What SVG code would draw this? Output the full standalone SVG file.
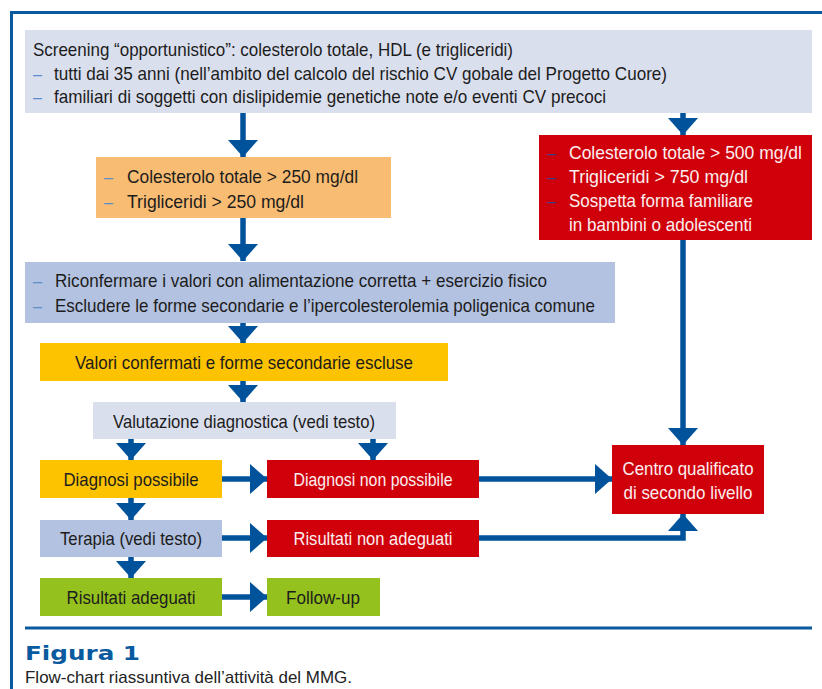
<svg xmlns="http://www.w3.org/2000/svg" width="822" height="689" viewBox="0 0 822 689">
<defs>
<style>
text{font-family:"Liberation Sans","Arial",sans-serif;font-size:18.5px;fill:#1c1c1c}
.w{fill:#fbeeee}
.c{text-anchor:middle}
.d{fill:#5a8fcc}
.dr{fill:#3a3f8e}
.lav{fill:#dadfee}
.blu{fill:#b3c2e0}
.org{fill:#f9bc73}
.yel{fill:#fdc300}
.red{fill:#d0000a}
.grn{fill:#95c11f}
.frame{stroke:#0a5aa0;stroke-width:3;fill:none}
.conn path{stroke:#00529b;stroke-width:5.5;fill:none}
.fig{font-family:"DejaVu Sans","Liberation Sans",sans-serif;font-weight:bold;font-size:20px;fill:#0a5aa0}
.cap{font-size:17px;fill:#222}
</style>
<marker id="ah" markerUnits="userSpaceOnUse" markerWidth="18" markerHeight="30" refX="17" refY="15" orient="auto" viewBox="0 0 18 30">
<path d="M0,0 L17,15 L0,30 Z" fill="#00529b"/>
</marker>
</defs>
<rect width="822" height="689" fill="#ffffff"/>
<path class="frame" d="M10,12.5 H822 M11.5,11 V689"/>
<path class="frame" d="M25,628 H812"/>

<g id="screening">
<rect class="lav" x="25" y="30" width="787" height="83"/>
<text x="33" y="56" textLength="480" lengthAdjust="spacingAndGlyphs">Screening “opportunistico”: colesterolo totale, HDL (e trigliceridi)</text>
<text class="d" x="33" y="80" textLength="9" lengthAdjust="spacingAndGlyphs">–</text>
<text x="54" y="80" textLength="613" lengthAdjust="spacingAndGlyphs">tutti dai 35 anni (nell’ambito del calcolo del rischio CV gobale del Progetto Cuore)</text>
<text class="d" x="33" y="103" textLength="9" lengthAdjust="spacingAndGlyphs">–</text>
<text x="54" y="103" textLength="552" lengthAdjust="spacingAndGlyphs">familiari di soggetti con dislipidemie genetiche note e/o eventi CV precoci</text>
</g>

<g id="soglie250">
<rect class="org" x="96" y="157" width="295" height="61"/>
<text class="d" x="104" y="183" textLength="9" lengthAdjust="spacingAndGlyphs">–</text>
<text x="127" y="183" textLength="231" lengthAdjust="spacingAndGlyphs">Colesterolo totale &gt; 250 mg/dl</text>
<text class="d" x="104" y="208" textLength="9" lengthAdjust="spacingAndGlyphs">–</text>
<text x="127" y="208" textLength="177" lengthAdjust="spacingAndGlyphs">Trigliceridi &gt; 250 mg/dl</text>
</g>

<g id="soglie500">
<rect class="red" x="539" y="135" width="273" height="105"/>
<text class="dr" x="547" y="159" textLength="9" lengthAdjust="spacingAndGlyphs">–</text>
<text class="w" x="569" y="159" textLength="233" lengthAdjust="spacingAndGlyphs">Colesterolo totale &gt; 500 mg/dl</text>
<text class="dr" x="547" y="183" textLength="9" lengthAdjust="spacingAndGlyphs">–</text>
<text class="w" x="569" y="183" textLength="179" lengthAdjust="spacingAndGlyphs">Trigliceridi &gt; 750 mg/dl</text>
<text class="dr" x="547" y="207" textLength="9" lengthAdjust="spacingAndGlyphs">–</text>
<text class="w" x="569" y="207" textLength="184" lengthAdjust="spacingAndGlyphs">Sospetta forma familiare</text>
<text class="w" x="569" y="231" textLength="183" lengthAdjust="spacingAndGlyphs">in bambini o adolescenti</text>
</g>

<g id="riconfermare">
<rect class="blu" x="25" y="262" width="590" height="61"/>
<text class="d" x="33" y="287" textLength="9" lengthAdjust="spacingAndGlyphs">–</text>
<text x="55" y="287" textLength="492" lengthAdjust="spacingAndGlyphs">Riconfermare i valori con alimentazione corretta + esercizio fisico</text>
<text class="d" x="33" y="312" textLength="9" lengthAdjust="spacingAndGlyphs">–</text>
<text x="55" y="312" textLength="540" lengthAdjust="spacingAndGlyphs">Escludere le forme secondarie e l’ipercolesterolemia poligenica comune</text>
</g>

<g id="confermati">
<rect class="yel" x="40" y="343" width="408" height="38"/>
<text class="c" x="244" y="369" textLength="338" lengthAdjust="spacingAndGlyphs">Valori confermati e forme secondarie escluse</text>
</g>

<g id="valutazione">
<rect class="lav" x="93" y="402" width="303" height="37"/>
<text class="c" x="244" y="428" textLength="262" lengthAdjust="spacingAndGlyphs">Valutazione diagnostica (vedi testo)</text>
</g>

<g id="diagnosi-possibile">
<rect class="yel" x="40" y="460" width="182" height="38"/>
<text class="c" x="131" y="486" textLength="135" lengthAdjust="spacingAndGlyphs">Diagnosi possibile</text>
</g>

<g id="diagnosi-non-possibile">
<rect class="red" x="267" y="460" width="212" height="38"/>
<text class="c w" x="373" y="486" textLength="159" lengthAdjust="spacingAndGlyphs">Diagnosi non possibile</text>
</g>

<g id="centro">
<rect class="red" x="612" y="445" width="152" height="69"/>
<text class="c w" x="688" y="475" textLength="131" lengthAdjust="spacingAndGlyphs">Centro qualificato</text>
<text class="c w" x="688" y="499" textLength="129" lengthAdjust="spacingAndGlyphs">di secondo livello</text>
</g>

<g id="terapia">
<rect class="blu" x="40" y="520" width="182" height="37"/>
<text class="c" x="131" y="545" textLength="142" lengthAdjust="spacingAndGlyphs">Terapia (vedi testo)</text>
</g>

<g id="risultati-non-adeguati">
<rect class="red" x="267" y="520" width="212" height="37"/>
<text class="c w" x="373" y="545" textLength="159" lengthAdjust="spacingAndGlyphs">Risultati non adeguati</text>
</g>

<g id="risultati-adeguati">
<rect class="grn" x="40" y="578" width="182" height="38"/>
<text class="c" x="131" y="604" textLength="129" lengthAdjust="spacingAndGlyphs">Risultati adeguati</text>
</g>

<g id="follow-up">
<rect class="grn" x="267" y="578" width="113" height="38"/>
<text class="c" x="323" y="604" textLength="74" lengthAdjust="spacingAndGlyphs">Follow-up</text>
</g>

<g class="conn" id="connectors">
<path d="M243,113 V157" marker-end="url(#ah)"/>
<path d="M683,113 V135" marker-end="url(#ah)"/>
<path d="M243,218 V261" marker-end="url(#ah)"/>
<path d="M243,323 V343" marker-end="url(#ah)"/>
<path d="M243,381 V402" marker-end="url(#ah)"/>
<path d="M131,439 V460" marker-end="url(#ah)"/>
<path d="M373,439 V460" marker-end="url(#ah)"/>
<path d="M222,479 H267" marker-end="url(#ah)"/>
<path d="M479,479 H612" marker-end="url(#ah)"/>
<path d="M683,240 V445" marker-end="url(#ah)"/>
<path d="M131,498 V520" marker-end="url(#ah)"/>
<path d="M222,538 H267" marker-end="url(#ah)"/>
<path d="M479,538 H683 V514" marker-end="url(#ah)"/>
<path d="M131,557 V578" marker-end="url(#ah)"/>
<path d="M222,597 H267" marker-end="url(#ah)"/>
</g>

<g id="caption">
<text class="fig" x="25" y="660" textLength="115" lengthAdjust="spacingAndGlyphs">Figura 1</text>
<text class="cap" x="25" y="683" textLength="327" lengthAdjust="spacingAndGlyphs">Flow-chart riassuntiva dell’attività del MMG.</text>
</g>
</svg>
